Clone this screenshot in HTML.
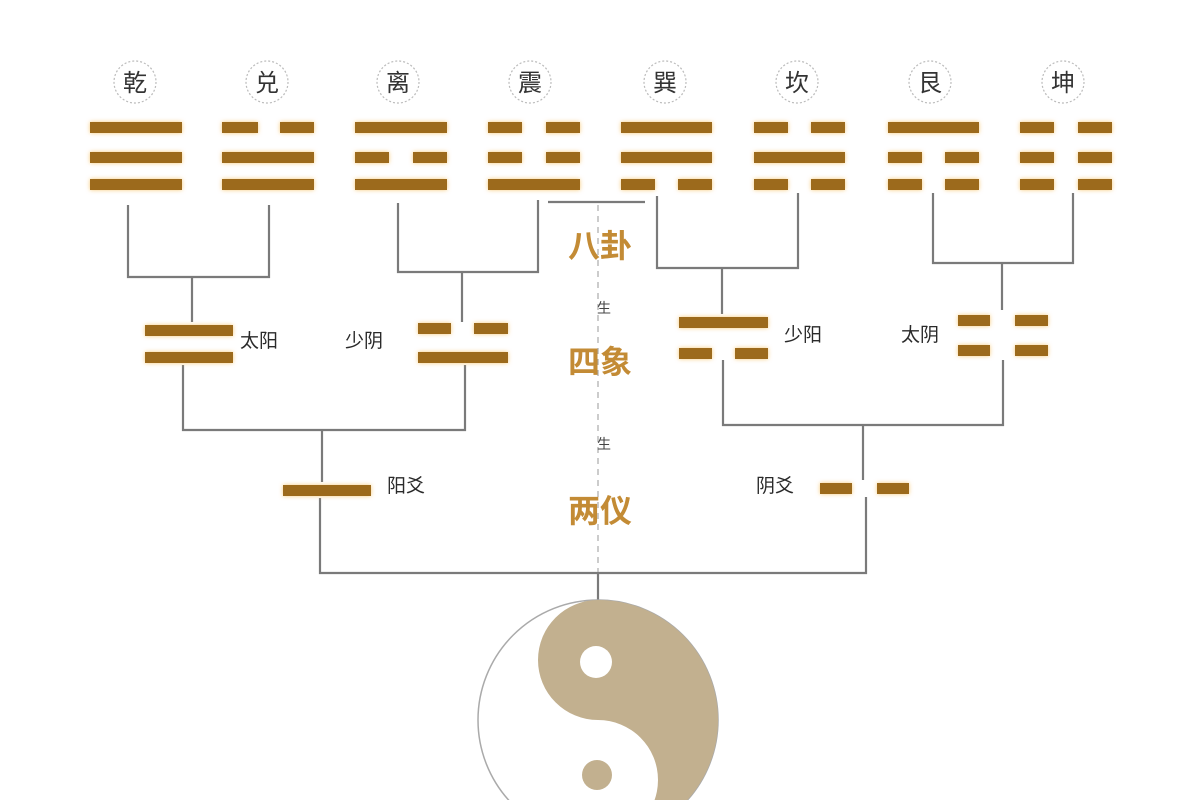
<!DOCTYPE html>
<html><head><meta charset="utf-8"><style>
html,body{margin:0;padding:0;background:#fff;}
svg{display:block;}
text{font-family:"Liberation Sans","Noto Sans CJK SC",sans-serif;}
</style></head><body>
<svg width="1200" height="800" viewBox="0 0 1200 800" xmlns="http://www.w3.org/2000/svg">
<defs>
<filter id="glow" x="-10%" y="-60%" width="120%" height="220%">
<feDropShadow dx="0" dy="0" stdDeviation="2" flood-color="#f6c46a" flood-opacity="0.9"/>
</filter>
</defs>
<rect width="1200" height="800" fill="#fff"/>

<!-- top labels -->
<g fill="none" stroke="#bbb" stroke-width="1.2" stroke-dasharray="2 2">
<circle cx="135" cy="82" r="21"/><circle cx="267" cy="82" r="21"/>
<circle cx="398" cy="82" r="21"/><circle cx="530" cy="82" r="21"/>
<circle cx="665" cy="82" r="21"/><circle cx="797" cy="82" r="21"/>
<circle cx="930" cy="82" r="21"/><circle cx="1063" cy="82" r="21"/>
</g>
<g font-size="24" fill="#333" text-anchor="middle">
<text x="135" y="91">乾</text><text x="267" y="91">兑</text>
<text x="398" y="91">离</text><text x="530" y="91">震</text>
<text x="665" y="91">巽</text><text x="797" y="91">坎</text>
<text x="930" y="91">艮</text><text x="1063" y="91">坤</text>
</g>

<!-- connectors -->
<g stroke="#7a7a7a" stroke-width="2.2" fill="none">
<polyline points="128,205 128,277 269,277 269,205"/>
<line x1="192" y1="277" x2="192" y2="322"/>
<polyline points="398,203 398,272 538,272 538,200"/>
<line x1="462" y1="272" x2="462" y2="322"/>
<polyline points="548,202 645,202"/>
<polyline points="657,196 657,268 798,268 798,193"/>
<line x1="722" y1="268" x2="722" y2="314"/>
<polyline points="933,193 933,263 1073,263 1073,193"/>
<line x1="1002" y1="263" x2="1002" y2="310"/>
<polyline points="183,365 183,430 465,430 465,365"/>
<line x1="322" y1="430" x2="322" y2="482"/>
<polyline points="723,360 723,425 1003,425 1003,360"/>
<line x1="863" y1="425" x2="863" y2="480"/>
<polyline points="320,498 320,573 866,573 866,497"/>
<line x1="598" y1="573" x2="598" y2="602"/>
</g>
<line x1="598" y1="205" x2="598" y2="572" stroke="#aaa" stroke-width="1.2" stroke-dasharray="6 5"/>

<!-- bars -->
<g fill="#9c6b1f" filter="url(#glow)">
<rect x="90" y="122" width="92" height="11"/><rect x="90" y="152" width="92" height="11"/><rect x="90" y="179" width="92" height="11"/>
<rect x="222" y="122" width="36" height="11"/><rect x="280" y="122" width="34" height="11"/>
<rect x="222" y="152" width="92" height="11"/><rect x="222" y="179" width="92" height="11"/>
<rect x="355" y="122" width="92" height="11"/>
<rect x="355" y="152" width="34" height="11"/><rect x="413" y="152" width="34" height="11"/>
<rect x="355" y="179" width="92" height="11"/>
<rect x="488" y="122" width="34" height="11"/><rect x="546" y="122" width="34" height="11"/>
<rect x="488" y="152" width="34" height="11"/><rect x="546" y="152" width="34" height="11"/>
<rect x="488" y="179" width="92" height="11"/>
<rect x="621" y="122" width="91" height="11"/><rect x="621" y="152" width="91" height="11"/>
<rect x="621" y="179" width="34" height="11"/><rect x="678" y="179" width="34" height="11"/>
<rect x="754" y="122" width="34" height="11"/><rect x="811" y="122" width="34" height="11"/>
<rect x="754" y="152" width="91" height="11"/>
<rect x="754" y="179" width="34" height="11"/><rect x="811" y="179" width="34" height="11"/>
<rect x="888" y="122" width="91" height="11"/>
<rect x="888" y="152" width="34" height="11"/><rect x="945" y="152" width="34" height="11"/>
<rect x="888" y="179" width="34" height="11"/><rect x="945" y="179" width="34" height="11"/>
<rect x="1020" y="122" width="34" height="11"/><rect x="1078" y="122" width="34" height="11"/>
<rect x="1020" y="152" width="34" height="11"/><rect x="1078" y="152" width="34" height="11"/>
<rect x="1020" y="179" width="34" height="11"/><rect x="1078" y="179" width="34" height="11"/>

<rect x="145" y="325" width="88" height="11"/><rect x="145" y="352" width="88" height="11"/>
<rect x="418" y="323" width="33" height="11"/><rect x="474" y="323" width="34" height="11"/>
<rect x="418" y="352" width="90" height="11"/>
<rect x="679" y="317" width="89" height="11"/>
<rect x="679" y="348" width="33" height="11"/><rect x="735" y="348" width="33" height="11"/>
<rect x="958" y="315" width="32" height="11"/><rect x="1015" y="315" width="33" height="11"/>
<rect x="958" y="345" width="32" height="11"/><rect x="1015" y="345" width="33" height="11"/>
<rect x="283" y="485" width="88" height="11"/>
<rect x="820" y="483" width="32" height="11"/><rect x="877" y="483" width="32" height="11"/>
</g>

<g font-size="19" fill="#2a2a2a">
<text x="240" y="347">太阳</text>
<text x="345" y="347">少阴</text>
<text x="784" y="341">少阳</text>
<text x="901" y="341">太阴</text>
<text x="387" y="492">阳爻</text>
<text x="756" y="492">阴爻</text>
</g>
<g font-size="14" fill="#444" text-anchor="middle">
<text x="604" y="313">生</text>
<text x="604" y="449">生</text>
</g>
<g font-size="32" font-weight="bold" fill="#c38b35" text-anchor="middle">
<text x="600" y="257">八卦</text>
<text x="600" y="373">四象</text>
<text x="600" y="522">两仪</text>
</g>

<!-- taiji -->
<circle cx="598" cy="720" r="120" fill="#fff" stroke="#aaa" stroke-width="1.5"/>
<path d="M598,600 A120,120 0 0 1 598,840 A60,60 0 0 0 598,720 A60,60 0 0 1 598,600 Z" fill="#c2b08f"/>
<circle cx="596" cy="662" r="16" fill="#fff"/>
<circle cx="597" cy="775" r="15" fill="#c2b08f"/>
</svg>
</body></html>
